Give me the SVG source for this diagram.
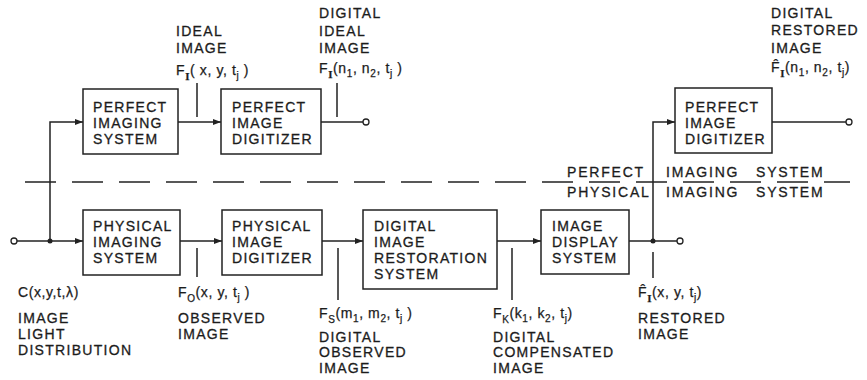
<svg xmlns="http://www.w3.org/2000/svg" width="867" height="380" viewBox="0 0 867 380">
<style>
.bg{fill:#fff}
.box{fill:none;stroke:#222;stroke-width:1.5}
.ln{fill:none;stroke:#222;stroke-width:1.5}
.t{font-family:"Liberation Sans",Arial,sans-serif;font-size:14px;letter-spacing:1.3px;fill:#1c1c1c;stroke:#1c1c1c;stroke-width:0.3px}
.f{font-family:"Liberation Sans",Arial,sans-serif;font-size:14px;letter-spacing:0.6px;fill:#1c1c1c;stroke:#1c1c1c;stroke-width:0.25px}
.sub{font-size:10px}
.subr{font-family:"Liberation Serif",serif;font-size:11px;font-weight:bold}
.dv{font-family:"Liberation Sans",Arial,sans-serif;font-size:14px;letter-spacing:1.8px;fill:#1c1c1c;stroke:#1c1c1c;stroke-width:0.3px}
.dot{fill:#222}
.oc{fill:#fff;stroke:#222;stroke-width:1.3}
</style>
<defs>
<marker id="ah" markerUnits="userSpaceOnUse" markerWidth="9" markerHeight="7" refX="8" refY="3" orient="auto">
<path d="M0,0 L8,3 L0,6 z" fill="#222"/>
</marker>
</defs>
<rect class="bg" width="867" height="380"/>

<g id="perfect-imaging-system">
<rect class="box" x="83" y="89" width="95" height="65"/>
<text class="t" x="93" y="112">PERFECT</text>
<text class="t" x="93" y="128">IMAGING</text>
<text class="t" x="93" y="144">SYSTEM</text>
</g>
<g id="perfect-image-digitizer-1">
<rect class="box" x="221" y="89" width="100" height="65"/>
<text class="t" x="232" y="112">PERFECT</text>
<text class="t" x="232" y="128">IMAGE</text>
<text class="t" x="232" y="144">DIGITIZER</text>
</g>
<g id="perfect-image-digitizer-2">
<rect class="box" x="675" y="88" width="97" height="65"/>
<text class="t" x="685" y="112">PERFECT</text>
<text class="t" x="685" y="128">IMAGE</text>
<text class="t" x="685" y="144">DIGITIZER</text>
</g>
<g id="physical-imaging-system">
<rect class="box" x="83" y="210" width="97" height="65"/>
<text class="t" x="93" y="231">PHYSICAL</text>
<text class="t" x="93" y="247">IMAGING</text>
<text class="t" x="93" y="263">SYSTEM</text>
</g>
<g id="physical-image-digitizer">
<rect class="box" x="222" y="210" width="100" height="65"/>
<text class="t" x="232" y="231">PHYSICAL</text>
<text class="t" x="232" y="247">IMAGE</text>
<text class="t" x="232" y="263">DIGITIZER</text>
</g>
<g id="digital-image-restoration-system">
<rect class="box" x="363" y="210" width="134" height="79"/>
<text class="t" x="374" y="231">DIGITAL</text>
<text class="t" x="374" y="247">IMAGE</text>
<text class="t" x="374" y="263">RESTORATION</text>
<text class="t" x="374" y="279">SYSTEM</text>
</g>
<g id="image-display-system">
<rect class="box" x="541" y="210" width="88" height="64"/>
<text class="t" x="552" y="231">IMAGE</text>
<text class="t" x="552" y="247">DISPLAY</text>
<text class="t" x="552" y="263">SYSTEM</text>
</g>

<g id="connectors">
<path class="ln" d="M17,241 H83" marker-end="url(#ah)"/>
<path class="ln" d="M50,241 V122 H83" marker-end="url(#ah)"/>
<path class="ln" d="M178,122 H221" marker-end="url(#ah)"/>
<path class="ln" d="M321,122 H363"/>
<path class="ln" d="M772,122 H846"/>
<path class="ln" d="M180,241 H222" marker-end="url(#ah)"/>
<path class="ln" d="M322,241 H363" marker-end="url(#ah)"/>
<path class="ln" d="M497,241 H541" marker-end="url(#ah)"/>
<path class="ln" d="M629,241 H677"/>
<path class="ln" d="M653,241 V122 H675" marker-end="url(#ah)"/>
<circle class="dot" cx="50" cy="241" r="2.5"/>
<circle class="dot" cx="653" cy="241" r="2.5"/>
<circle class="oc" cx="14" cy="241" r="3"/>
<circle class="oc" cx="366" cy="122" r="3"/>
<circle class="oc" cx="849" cy="122" r="3"/>
<circle class="oc" cx="680" cy="241" r="3"/>
<path class="ln" d="M197,83 V117 M337,83 V117 M197,248 V277 M338,248 V300 M512,248 V300 M653,252 V278"/>
<path class="ln" d="M25,182 H850" stroke-dasharray="31 16"/>
</g>

<g id="labels">
<text class="t" x="176" y="36">IDEAL</text>
<text class="t" x="176" y="53">IMAGE</text>
<text class="f" x="176" y="75">F<tspan class="subr" dy="5">I</tspan><tspan dy="-5">( x, y, t</tspan><tspan class="sub" dy="4">j</tspan><tspan dy="-4"> )</tspan></text>

<text class="t" x="319" y="18">DIGITAL</text>
<text class="t" x="319" y="36">IDEAL</text>
<text class="t" x="319" y="53">IMAGE</text>
<text class="f" x="319" y="73">F<tspan class="subr" dy="5">I</tspan><tspan dy="-5">(n</tspan><tspan class="sub" dy="4">1</tspan><tspan dy="-4">, n</tspan><tspan class="sub" dy="4">2</tspan><tspan dy="-4">, t</tspan><tspan class="sub" dy="4">j</tspan><tspan dy="-4"> )</tspan></text>

<text class="t" x="771" y="18">DIGITAL</text>
<text class="t" x="771" y="35">RESTORED</text>
<text class="t" x="771" y="53">IMAGE</text>
<text class="f" x="771" y="72">F&#x302;<tspan class="subr" dy="5">I</tspan><tspan dy="-5">(n</tspan><tspan class="sub" dy="4">1</tspan><tspan dy="-4">, n</tspan><tspan class="sub" dy="4">2</tspan><tspan dy="-4">, t</tspan><tspan class="sub" dy="4">j</tspan><tspan dy="-4">)</tspan></text>

<text class="dv" x="567" y="177">PERFECT</text>
<text class="dv" x="666" y="177">IMAGING</text>
<text class="dv" x="756" y="177">SYSTEM</text>
<text class="dv" x="567" y="197">PHYSICAL</text>
<text class="dv" x="666" y="197">IMAGING</text>
<text class="dv" x="756" y="197">SYSTEM</text>

<text class="f" x="18" y="297">C(x,y,t,λ)</text>
<text class="t" x="18" y="323">IMAGE</text>
<text class="t" x="18" y="339">LIGHT</text>
<text class="t" x="18" y="355">DISTRIBUTION</text>

<text class="f" x="178" y="297">F<tspan class="sub" dy="5">O</tspan><tspan dy="-5">(x, y, t</tspan><tspan class="sub" dy="4">j</tspan><tspan dy="-4"> )</tspan></text>
<text class="t" x="178" y="323">OBSERVED</text>
<text class="t" x="178" y="339">IMAGE</text>

<text class="f" x="319" y="318">F<tspan class="sub" dy="5">S</tspan><tspan dy="-5">(m</tspan><tspan class="sub" dy="4">1</tspan><tspan dy="-4">, m</tspan><tspan class="sub" dy="4">2</tspan><tspan dy="-4">, t</tspan><tspan class="sub" dy="4">j</tspan><tspan dy="-4"> )</tspan></text>
<text class="t" x="319" y="342">DIGITAL</text>
<text class="t" x="319" y="357">OBSERVED</text>
<text class="t" x="319" y="373">IMAGE</text>

<text class="f" x="493" y="318">F<tspan class="sub" dy="5">K</tspan><tspan dy="-5">(k</tspan><tspan class="sub" dy="4">1</tspan><tspan dy="-4">, k</tspan><tspan class="sub" dy="4">2</tspan><tspan dy="-4">, t</tspan><tspan class="sub" dy="4">j</tspan><tspan dy="-4">)</tspan></text>
<text class="t" x="493" y="342">DIGITAL</text>
<text class="t" x="493" y="357">COMPENSATED</text>
<text class="t" x="493" y="373">IMAGE</text>

<text class="f" x="638" y="297">F&#x302;<tspan class="subr" dy="5">I</tspan><tspan dy="-5">(x, y, t</tspan><tspan class="sub" dy="4">j</tspan><tspan dy="-4">)</tspan></text>
<text class="t" x="638" y="323">RESTORED</text>
<text class="t" x="638" y="339">IMAGE</text>
</g>
</svg>
